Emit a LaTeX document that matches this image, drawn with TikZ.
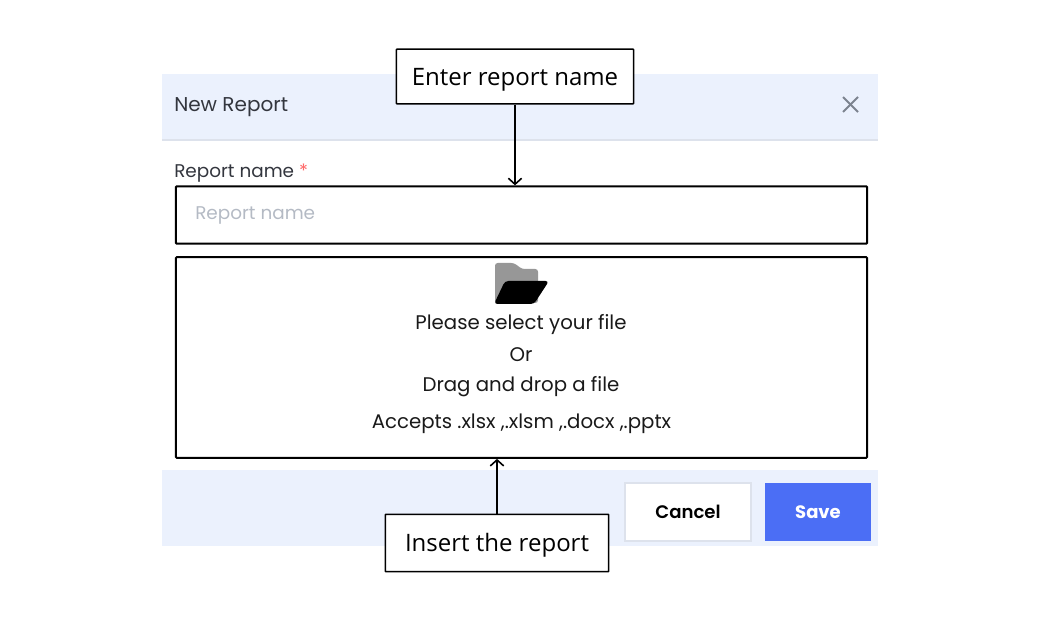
\documentclass[tikz,border=0pt]{standalone}
\usepackage{fontspec}
\usetikzlibrary{arrows.meta}
\setmainfont{Poppins}
\newfontfamily\callfont{Open Sans}
\newfontfamily\btnfont{Poppins SemiBold}
\definecolor{panelblue}{HTML}{EBF1FD}
\definecolor{rulegrey}{HTML}{DDE2EC}
\definecolor{hintgrey}{HTML}{B4BAC4}
\definecolor{labelgrey}{HTML}{33363E}
\definecolor{savefill}{HTML}{4B6EF5}
\definecolor{crossgrey}{HTML}{7C838F}
\definecolor{foldergrey}{HTML}{979797}
\tikzset{
	>={Straight Barb[length=4.5pt,width=10pt]},
	panel/.style={fill=panelblue, draw=none, inner sep=0pt, minimum width=537pt},
	outlinebox/.style={draw, line width=1.5pt, rounded corners=0.7pt, inner sep=0pt, minimum width=518.5pt},
	callout/.style={draw, fill=white, line width=1.2pt, rounded corners=0.5pt, inner sep=0pt, text height=12.8pt, text depth=0pt, font=\callfont\fontsize{18}{20}\selectfont},
	formtext/.style={inner sep=0pt, font=\fontsize{14.8}{16}\selectfont, text=black!90},
}
\begin{document}
\begin{tikzpicture}[x=0.75pt, y=-0.75pt]
		\useasboundingbox (0,0) rectangle (1040,620);

		\node (head)[panel, minimum height=49.5pt] at (520,107) {};
		\node (foot)[panel, minimum height=57pt] at (520,508) {};
		\draw [rulegrey, line width=1.3pt] (head.south west) to (head.south east);

		\node (title)[formtext, anchor=west, text=labelgrey, font=\fontsize{15}{16}\selectfont] at (174,107.5) {New Report};
		\coordinate (x1) at (843,97);
		\coordinate (x2) at (858,112);
		\coordinate (x3) at (858,97);
		\coordinate (x4) at (843,112);
		\draw [crossgrey, line width=1.4pt](x1) to (x2);
		\draw [crossgrey, line width=1.4pt](x3) to (x4);

		\node (lab)[formtext, anchor=west, text=labelgrey, font=\fontsize{13.8}{16}\selectfont] at (174,173) {Report name \textcolor{red!60}{*}};

		\node (field)[outlinebox, minimum height=43pt] at (521.5,215) {};
		\node (hint)[formtext, anchor=west, text=hintgrey, font=\fontsize{13.8}{16}\selectfont] at (195,215.5) {Report name};

		\node (drop)[outlinebox, minimum height=150.5pt] at (521.5,357.5) {};

		% folder icon
		\fill [foldergrey, rounded corners=2pt] (495,303) -- (495,263) -- (514,263) -- (522,269) -- (538,269) -- (538,303) -- cycle;
		\fill [black, rounded corners=2.5pt] (505,281) -- (549,281) -- (534,304) -- (494,304) -- cycle;

		\node (t1)[formtext] at (521,324.5) {Please select your file};
		\node (t2)[formtext] at (521,355) {Or};
		\node (t3)[formtext] at (521,387) {Drag and drop a file};
		\node (t4)[formtext] at (521.5,424) {Accepts .xlsx ,.xlsm ,.docx ,.pptx};

		\node (cancel)[draw=rulegrey, fill=white, line width=1.3pt, minimum width=94pt, minimum height=43pt, inner sep=0pt, font=\btnfont\fontsize{13.6}{16}\selectfont] at (688,512) {Cancel};
		\node (save)[fill=savefill, text=white, minimum width=80pt, minimum height=44pt, inner sep=0pt, font=\fontsize{13.5}{16}\selectfont\bfseries] at (818,512) {Save};

		\node (enter)[callout, minimum width=178pt, minimum height=41pt] at (515,76.5) {Enter report name};
		\node (insert)[callout, minimum width=167.5pt, minimum height=43pt] at (497,543) {Insert the report};

		\draw [->, line width=1.2pt](enter) to (enter |- field.north);
		\draw [->, line width=1.2pt](insert) to (insert |- drop.south);
	\end{tikzpicture}
\end{document}
